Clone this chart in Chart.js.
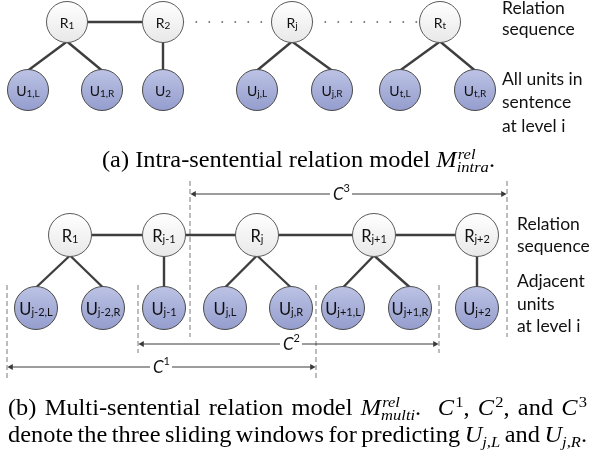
<!DOCTYPE html>
<html>
<head>
<meta charset="utf-8">
<script src="https://cdn.jsdelivr.net/npm/chart.js@4.4.0/dist/chart.umd.min.js"></script>
<style>
  html, body { margin: 0; padding: 0; background: #fff; }
  canvas { display: block; }
</style>
</head>
<body>
<canvas id="diagram" width="590" height="458"></canvas>
<script>
// (a) intra-sentential relation model
const topRelX = [67, 163, 292, 440];
const topRelY = [22, 22, 22, 22];
const topRelNames = [["R", "1"], ["R", "2"], ["R", "j"], ["R", "t"]];
const topUnitX = [28, 102, 163, 257, 332, 400, 475];
const topUnitY = [90, 90, 90, 90, 90, 90, 90];
const topUnitNames = [["U", "1,L"], ["U", "1,R"], ["U", "2"], ["U", "j,L"], ["U", "j,R"], ["U", "t,L"], ["U", "t,R"]];
const topUnitParent = [0, 0, 1, 2, 2, 3, 3];
const topSolidLinks = [[0, 1]];
const topDottedLinks = [[1, 2], [2, 3]];
const topSideText = ["Relation", "sequence", "All units in", "sentence", "at level i"];

// (b) multi-sentential relation model
const botRelX = [70, 164, 257, 374, 477];
const botRelY = [235, 235, 235, 235, 235];
const botRelNames = [["R", "1"], ["R", "j-1"], ["R", "j"], ["R", "j+1"], ["R", "j+2"]];
const botUnitX = [36, 103, 164, 225, 291, 343, 410, 477];
const botUnitY = [308, 308, 308, 308, 308, 308, 308, 308];
const botUnitNames = [["U", "j-2,L"], ["U", "j-2,R"], ["U", "j-1"], ["U", "j,L"], ["U", "j,R"], ["U", "j+1,L"], ["U", "j+1,R"], ["U", "j+2"]];
const botUnitParent = [0, 0, 1, 2, 2, 3, 3, 4];
const botSolidLinks = [[0, 1], [1, 2], [2, 3], [3, 4]];
const botSideText = ["Relation", "sequence", "Adjacent", "units", "at level i"];

// sliding windows C1, C2, C3
const winSup = ["1", "2", "3"];
const winLeft = [7, 138, 190];
const winRight = [316, 439, 507];
const winArrowY = [367, 344, 194];
const winTop = [285, 285, 181];
const winBottom = [380, 353, 337];
const winLabelX = [153, 283, 333];

// layout / style
const rTop = 20.5, rBot = 21.5;
const topSide = { x: 502, y: [14, 35, 85, 108, 132] };
const botSide = { x: 517, y: [230, 252, 287, 310, 332] };
const edgeColor = "#3e3e3e";
const serif = '"Liberation Serif"';
const sans = "Lato";

const datasets = [];

function seg(x1, y1, x2, y2, extra) {
  datasets.push(Object.assign({
    data: [{ x: x1, y: y1 }, { x: x2, y: y2 }],
    showLine: true,
    pointRadius: 0,
    borderColor: edgeColor,
    borderWidth: 2.4,
    clip: false,
    order: 5
  }, extra || {}));
}

function nodeFill(top, bottom, r) {
  return function (ctx) {
    if (!ctx.raw || !ctx.chart.scales.y) return bottom;
    const yp = ctx.chart.scales.y.getPixelForValue(ctx.raw.y);
    if (!isFinite(yp)) return bottom;
    const g = ctx.chart.ctx.createLinearGradient(0, yp - r, 0, yp + r);
    g.addColorStop(0, top);
    g.addColorStop(1, bottom);
    return g;
  };
}

function nodes(xs, ys, r, kind) {
  const rel = kind === "rel";
  datasets.push({
    data: xs.map((x, i) => ({ x: x, y: ys[i] })),
    pointRadius: r,
    pointBackgroundColor: rel ? nodeFill("#ffffff", "#e8e8e8", r) : nodeFill("#bcc3e5", "#949dcd", r),
    pointBorderColor: rel ? "#5a5a5a" : "#4a4a4a",
    pointBorderWidth: 1,
    clip: false,
    order: 0
  });
}

function tree(relX, relY, unitX, unitY, parent, r) {
  unitX.forEach((ux, i) => {
    const p = parent[i];
    seg(relX[p], relY[p] + r - 1, ux, unitY[i] - r + 1);
  });
}

function chain(relX, relY, links, r, dotted) {
  links.forEach(([a, b]) => {
    const extra = dotted ? { borderDash: [1.6, 11.4], borderWidth: 1.6, borderColor: "#555" } : {};
    seg(relX[a] + r - 1, relY[a], relX[b] - r + 1, relY[b], extra);
  });
}

// (a)
chain(topRelX, topRelY, topSolidLinks, rTop, false);
chain(topRelX, topRelY, topDottedLinks, rTop, true);
tree(topRelX, topRelY, topUnitX, topUnitY, topUnitParent, rTop);
nodes(topRelX, topRelY, rTop, "rel");
nodes(topUnitX, topUnitY, rTop, "unit");

// (b)
chain(botRelX, botRelY, botSolidLinks, rBot, false);
tree(botRelX, botRelY, botUnitX, botUnitY, botUnitParent, rBot);
nodes(botRelX, botRelY, rBot, "rel");
nodes(botUnitX, botUnitY, rBot, "unit");

// window boundaries and arrows
winLeft.forEach((l, i) => {
  const dash = { borderDash: [5, 3], borderWidth: 1, borderColor: "#7a7a7a", order: 6 };
  seg(l, winTop[i], l, winBottom[i], dash);
  seg(winRight[i], winTop[i], winRight[i], winBottom[i], dash);
  datasets.push({
    data: [{ x: l + 4, y: winArrowY[i] }, { x: winRight[i] - 4, y: winArrowY[i] }],
    showLine: true,
    borderColor: "#3a3a3a",
    borderWidth: 1,
    pointStyle: "triangle",
    pointRadius: 3.6,
    pointRotation: [-90, 90],
    pointBackgroundColor: "#3a3a3a",
    pointBorderWidth: 0,
    clip: false,
    order: 4
  });
});

// ---- text drawing ----
function nodeLabel(ctx, x, y, name, size) {
  const sub = Math.round(size * 0.68);
  ctx.font = size + "px " + sans;
  const wb = ctx.measureText(name[0]).width;
  ctx.font = sub + "px " + sans;
  const ws = ctx.measureText(name[1]).width;
  const left = x - (wb + ws) / 2;
  const base = y + size * 0.4;
  ctx.font = size + "px " + sans;
  ctx.fillText(name[0], left, base);
  ctx.font = sub + "px " + sans;
  ctx.fillText(name[1], left + wb, base + size * 0.1);
}

function serifFont(italic, s) {
  return (italic ? "italic " : "") + s + "px " + serif;
}

function runWidth(ctx, r, size) {
  const small = size * 0.68;
  if (r.t !== undefined) {
    ctx.font = serifFont(r.i, size);
    return ctx.measureText(r.t).width;
  }
  let w = 0;
  if (r.sup) { ctx.font = serifFont(isNaN(r.sup), small); w = Math.max(w, ctx.measureText(r.sup).width + 1); }
  if (r.sub) { ctx.font = serifFont(true, small); w = Math.max(w, ctx.measureText(r.sub).width); }
  return w;
}

function richWidth(ctx, runs, size) {
  return runs.reduce((s, r) => s + runWidth(ctx, r, size), 0);
}

// draws a line of caption text; if target is given, spaces are stretched to fill it
function drawRich(ctx, runs, x, y, size, sx, target) {
  const small = size * 0.68;
  let spaces = 0;
  runs.forEach(r => {
    if (r.t !== undefined && !r.i) spaces += (r.t.match(/ /g) || []).length;
  });
  const natural = richWidth(ctx, runs, size);
  const extra = target && spaces ? (target / sx - natural) / spaces : 0;
  ctx.save();
  ctx.translate(x, y);
  ctx.scale(sx, 1);
  let cx = 0;
  runs.forEach(r => {
    if (r.t !== undefined) {
      ctx.font = serifFont(r.i, size);
      if (r.i || !extra) {
        ctx.fillText(r.t, cx, 0);
        cx += ctx.measureText(r.t).width;
      } else {
        const words = r.t.split(" ");
        const sp = ctx.measureText(" ").width + extra;
        words.forEach((w, k) => {
          ctx.fillText(w, cx, 0);
          cx += ctx.measureText(w).width;
          if (k < words.length - 1) cx += sp;
        });
      }
    } else {
      if (r.sup) {
        ctx.font = serifFont(isNaN(r.sup), small);
        ctx.fillText(r.sup, cx + 1, -size * 0.36);
      }
      if (r.sub) {
        ctx.font = serifFont(true, small);
        ctx.fillText(r.sub, cx, size * 0.22);
      }
      cx += runWidth(ctx, r, size);
    }
  });
  ctx.restore();
}

const captionA = [{ t: "(a) Intra-sentential relation model " }, { t: "M", i: true }, { sup: "rel", sub: "intra" }, { t: "." }];
const captionB1 = [{ t: "(b) Multi-sentential relation model " }, { t: "M", i: true }, { sup: "rel", sub: "multi" },
  { t: ".  " }, { t: "C", i: true }, { sup: "1" }, { t: ", " }, { t: "C", i: true }, { sup: "2" },
  { t: ", and " }, { t: "C", i: true }, { sup: "3" }];
const captionB2 = [{ t: "denote the three sliding windows for predicting " }, { t: "U", i: true }, { sub: "j,L" },
  { t: " and " }, { t: "U", i: true }, { sub: "j,R" }, { t: "." }];

const textPlugin = {
  id: "diagramText",
  afterDatasetsDraw(chart) {
    const ctx = chart.ctx;
    const X = v => chart.scales.x.getPixelForValue(v);
    const Y = v => chart.scales.y.getPixelForValue(v);
    ctx.save();
    ctx.fillStyle = "#111";
    ctx.textBaseline = "alphabetic";
    ctx.textAlign = "left";

    topRelX.forEach((x, i) => nodeLabel(ctx, X(x), Y(topRelY[i]), topRelNames[i], 14));
    topUnitX.forEach((x, i) => nodeLabel(ctx, X(x), Y(topUnitY[i]), topUnitNames[i], 14));
    botRelX.forEach((x, i) => nodeLabel(ctx, X(x), Y(botRelY[i]), botRelNames[i], 16.5));
    botUnitX.forEach((x, i) => nodeLabel(ctx, X(x), Y(botUnitY[i]), botUnitNames[i], 16.5));

    // window labels C^k
    winSup.forEach((s, i) => {
      const x = X(winLabelX[i]), y = Y(winArrowY[i]);
      ctx.font = "italic 17px " + sans;
      const wc = ctx.measureText("C").width;
      ctx.font = "11px " + sans;
      const ws = ctx.measureText(s).width;
      ctx.fillStyle = "#fff";
      ctx.fillRect(x - 3, y - 3, wc + ws + 5, 6);
      ctx.fillStyle = "#111";
      ctx.font = "italic 17px " + sans;
      ctx.fillText("C", x, y + 6);
      ctx.font = "11px " + sans;
      ctx.fillText(s, x + wc, y - 2);
    });

    // side notes
    ctx.font = "17.5px " + sans;
    topSideText.forEach((t, i) => ctx.fillText(t, X(topSide.x), Y(topSide.y[i])));
    botSideText.forEach((t, i) => ctx.fillText(t, X(botSide.x), Y(botSide.y[i])));

    // captions: the source text is slightly wider than Liberation Serif, so stretch it
    ctx.fillStyle = "#000";
    const size = 22.5;
    const sx = 393 / richWidth(ctx, captionA, size);
    drawRich(ctx, captionA, X(102), Y(167), size, sx, 0);
    drawRich(ctx, captionB1, X(8), Y(415), size, sx, 579);
    drawRich(ctx, captionB2, X(8), Y(442), size, sx, 579);
    ctx.restore();
  }
};

new Chart(document.getElementById("diagram"), {
  type: "scatter",
  data: { datasets: datasets },
  options: {
    responsive: false,
    animation: false,
    events: [],
    layout: { padding: 0, autoPadding: false },
    plugins: { legend: { display: false }, tooltip: { enabled: false } },
    scales: {
      x: { type: "linear", min: 0, max: 590, display: false },
      y: { type: "linear", min: 0, max: 458, reverse: true, display: false }
    }
  },
  plugins: [textPlugin]
});
</script>
</body>
</html>
